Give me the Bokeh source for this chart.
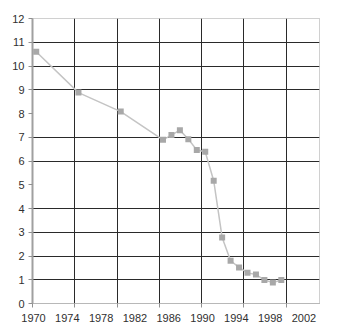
from bokeh.plotting import figure
from bokeh.models import FixedTicker, Range1d
from bokeh.embed import file_html
from bokeh.resources import INLINE

# data
years = [1972, 1977, 1982, 1987, 1988, 1989, 1990, 1991, 1992, 1993,
         1994, 1995, 1996, 1997, 1998, 1999, 2000, 2001]
values = [10.6, 8.88, 8.08, 6.89, 7.09, 7.30, 6.92, 6.46, 6.39, 5.17,
          2.78, 1.80, 1.52, 1.29, 1.22, 0.99, 0.88, 0.99]

label_years = [1970, 1974, 1978, 1982, 1986, 1990, 1994, 1998, 2002]
grid_years = [1971.56, 1976.56, 1981.56, 1986.56, 1991.56, 1996.56, 2001.56]
y_ticks = list(range(0, 13))
y_grid = [1, 2, 3, 4, 6, 7, 9, 10, 11]

# labels are right-aligned; shift each tick so the text ends past its year
label_shift = 1.68
label_ticks = [y + label_shift for y in label_years]
label_map = {t: str(y) for t, y in zip(label_ticks, label_years)}

p = figure(width=340, height=336, output_backend="svg", toolbar_location=None,
           x_range=Range1d(1971.56, 2005.52), y_range=Range1d(0, 12),
           min_border_left=32, min_border_right=21, min_border_top=18,
           min_border_bottom=33)
p.background_fill_color = "white"
p.border_fill_color = "white"
p.outline_line_color = "#a0a0a0"
p.outline_line_dash = "1 1"

# grids
p.xgrid.ticker = FixedTicker(ticks=grid_years)
p.ygrid.ticker = FixedTicker(ticks=y_grid)
for g in (p.xgrid, p.ygrid):
    g.grid_line_color = "#2a2a2a"
    g.grid_line_width = 1

# x axis: tick marks (minor) at grid lines, labels at label years
p.xaxis.ticker = FixedTicker(ticks=label_ticks, minor_ticks=grid_years)
p.xaxis.major_label_overrides = label_map
p.xaxis.major_label_text_align = "right"
p.xaxis.major_tick_line_color = None
p.xaxis.minor_tick_line_color = "#909090"
p.xaxis.minor_tick_in = 0
p.xaxis.minor_tick_out = 4
p.xaxis.axis_line_color = "#a0a0a0"
p.xaxis.axis_line_dash = "1 1"
p.xaxis.major_label_standoff = 4
p.xaxis.major_label_text_font = "Liberation Sans"
p.xaxis.major_label_text_font_size = "11px"
p.xaxis.major_label_text_color = "#303030"

p.yaxis.ticker = FixedTicker(ticks=y_ticks)
p.yaxis.axis_line_color = "#a0a0a0"
p.yaxis.axis_line_width = 2
p.yaxis.major_tick_line_color = "#909090"
p.yaxis.major_tick_in = 0
p.yaxis.major_tick_out = 4
p.yaxis.minor_tick_line_color = None
p.yaxis.major_label_standoff = 4
p.yaxis.major_label_text_font = "Liberation Sans"
p.yaxis.major_label_text_font_size = "11px"
p.yaxis.major_label_text_color = "#303030"

# series
p.line(years, values, line_color="#c4c4c4", line_width=1.5)
p.scatter(years, values, marker="square", size=6, fill_color="#a8a8a8",
          line_color=None)

open("out.html", "w").write(file_html(p, INLINE))
